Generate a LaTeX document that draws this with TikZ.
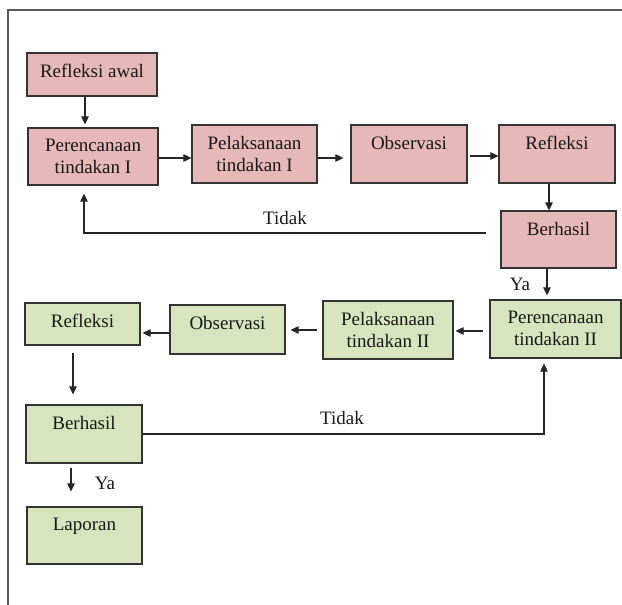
\documentclass[tikz,border=0pt]{standalone}
\usepackage{fontspec}
\setmainfont{Liberation Serif}
\usetikzlibrary{calc,arrows.meta}
\definecolor{sik1}{HTML}{E6B9B8}
\definecolor{sik2}{HTML}{D7E4BD}
\definecolor{garis}{HTML}{333333}

\begin{document}
\begin{tikzpicture}[x=1pt, y=-1pt, font=\fontsize{19}{22}\selectfont, text=black!90,
  arr/.style={-{Triangle[length=8pt,width=7.5pt]}, line width=1.1pt, black!85},
  ket/.style={inner sep=0pt}]
\useasboundingbox (0,0) rectangle (622,605);
\draw[line width=1.4pt, black!65] (622,10) -- (8,10) -- (8,605);
\newcommand{\kotak}[7]{% name, left, top, right, bottom, fill, text
  \node[draw=garis, line width=1.2pt, fill=#6, inner sep=0pt, minimum width=#4-#2, minimum height=#5-#3,
    label={[anchor=north, align=center, inner sep=0pt, yshift=-11.5pt]north:#7}] (#1) at ({(#2+#4)/2},{(#3+#5)/2}) {};}
% siklus I
\kotak{ra}{27}{53}{157}{96}{sik1}{Refleksi awal}
\kotak{pr1}{28}{128}{158}{185}{sik1}{Perencanaan\\tindakan I}
\kotak{pl1}{192}{125}{317}{183}{sik1}{Pelaksanaan\\tindakan I}
\kotak{ob1}{351}{125}{467}{183}{sik1}{Observasi}
\kotak{rf1}{499}{125}{615}{183}{sik1}{Refleksi}
\kotak{bh1}{501}{211}{616}{268}{sik1}{Berhasil}
% siklus II
\kotak{pr2}{490}{300}{621}{358}{sik2}{Perencanaan\\tindakan II}
\kotak{pl2}{323}{301}{453}{359}{sik2}{Pelaksanaan\\tindakan II}
\kotak{ob2}{170}{305}{285}{354}{sik2}{Observasi}
\kotak{rf2}{25}{303}{140}{345}{sik2}{Refleksi}
\kotak{bh2}{26}{405}{142}{463}{sik2}{Berhasil}
\kotak{lp}{27}{507}{142}{564}{sik2}{Laporan}
% alur siklus I
\draw[arr, shorten >=3pt] ([xshift=-7pt]ra.south) -- ([xshift=-7pt]ra.south |- pr1.north);
\draw[arr] ([yshift=-1.5pt]pr1.east) -- ([yshift=-1.5pt]pr1.east -| pl1.west);
\draw[arr, shorten >=7pt] ([yshift=-4pt]pl1.east) -- ([yshift=-4pt]pl1.east -| ob1.west);
\draw[arr, shorten <=2pt] ([yshift=-2pt]ob1.east) -- ([yshift=-2pt]ob1.east -| rf1.west);
\draw[arr] ([xshift=-8pt]rf1.south) -- ([xshift=-8pt]rf1.south |- bh1.north);
\draw[arr, shorten <=14pt] ([yshift=6.5pt]bh1.west) -| ([xshift=-9pt,yshift=-8pt]pr1.south);
\node[ket] (tidak1) at (285,218) {Tidak};
\draw[arr, shorten >=4pt] ([xshift=-11.5pt]bh1.south) -- ([xshift=-11.5pt]bh1.south |- pr2.north);
\node[ket] (ya1) at (520,284) {Ya};
% alur siklus II
\draw[arr, shorten <=6pt, shorten >=2pt] ([yshift=-2pt]pr2.west) -- ([yshift=-2pt]pr2.west -| pl2.east);
\draw[arr, shorten <=5pt, shorten >=5pt] (pl2.west) -- (pl2.west -| ob2.east);
\draw[arr, shorten >=2pt] ([yshift=-3.5pt]ob2.west) -- ([yshift=-3.5pt]ob2.west -| rf2.east);
\draw[arr, shorten <=7pt, shorten >=10pt] ([xshift=-9.5pt]rf2.south) -- ([xshift=-9.5pt]rf2.south |- bh2.north);
\draw[arr] (bh2.east) -| ([xshift=-11.5pt,yshift=-5pt]pr2.south);
\node[ket] (tidak2) at (342,418) {Tidak};
\draw[arr, shorten <=4pt, shorten >=15pt] ([xshift=-13pt]bh2.south) -- ([xshift=-13pt]bh2.south |- lp.north);
\node[ket] (ya2) at (105,483) {Ya};
\end{tikzpicture}
\end{document}
